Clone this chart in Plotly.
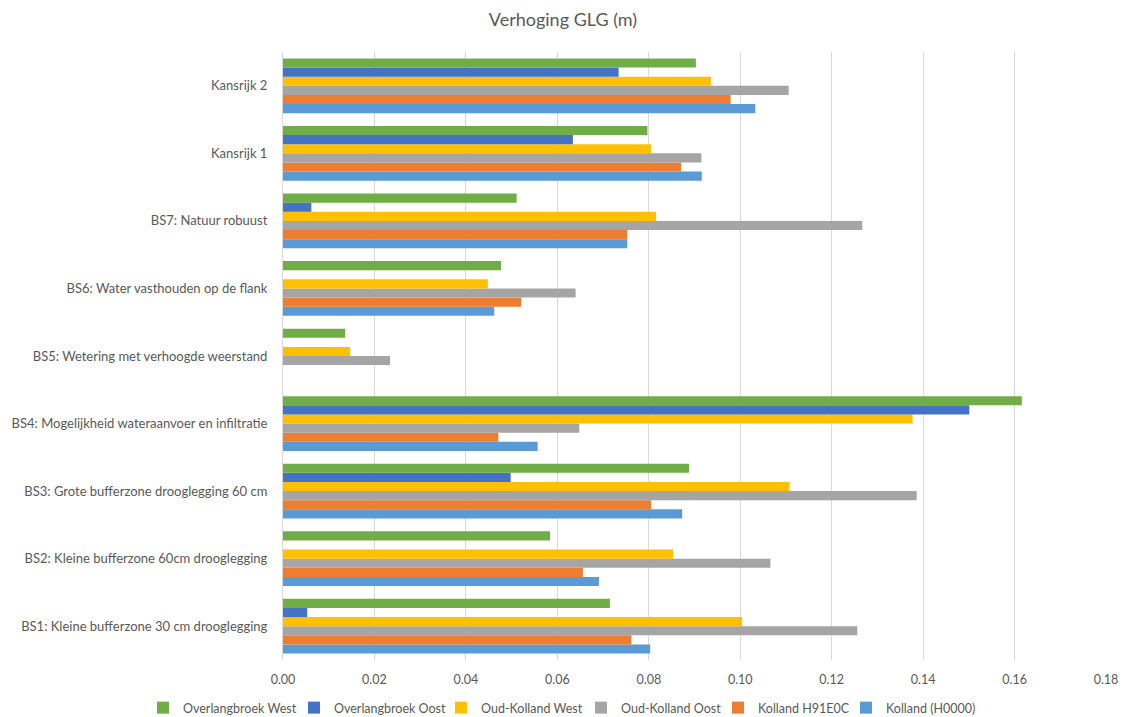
import plotly.graph_objects as go

# Scenario categories, listed bottom to top
categories = [
    "BS1: Kleine bufferzone 30 cm drooglegging",
    "BS2: Kleine bufferzone 60cm drooglegging",
    "BS3: Grote bufferzone drooglegging 60 cm",
    "BS4: Mogelijkheid wateraanvoer en infiltratie",
    "BS5: Wetering met verhoogde weerstand",
    "BS6: Water vasthouden op de flank",
    "BS7: Natuur robuust",
    "Kansrijk 1",
    "Kansrijk 2",
]

# GLG rise (m) per area, same order as categories
kolland_h0000 = [0.0803, 0.0691, 0.0873, 0.0557, 0.0, 0.0462, 0.0753, 0.0916, 0.1033]
kolland_h91e0c = [0.0762, 0.0656, 0.0805, 0.0471, 0.0, 0.0521, 0.0753, 0.0871, 0.0979]
oud_kolland_oost = [0.1256, 0.1066, 0.1386, 0.0648, 0.0234, 0.0640, 0.1267, 0.0915, 0.1106]
oud_kolland_west = [0.1004, 0.0853, 0.1108, 0.1377, 0.0147, 0.0448, 0.0816, 0.0805, 0.0936]
overlangbroek_oost = [0.0053, 0.0, 0.0498, 0.1501, 0.0, 0.0, 0.0062, 0.0634, 0.0734]
overlangbroek_west = [0.0715, 0.0584, 0.0888, 0.1616, 0.0136, 0.0477, 0.0511, 0.0797, 0.0903]

x_ticks = [0.00, 0.02, 0.04, 0.06, 0.08, 0.10, 0.12, 0.14, 0.16, 0.18]

# name, values, colour, left edge of its legend entry (px from page left)
series = [
    ("Kolland (H0000)", kolland_h0000, "#5B9BD5", 846),
    ("Kolland H91E0C", kolland_h91e0c, "#ED7D31", 718),
    ("Oud-Kolland Oost", oud_kolland_oost, "#A5A5A5", 581),
    ("Oud-Kolland West", oud_kolland_west, "#FFC000", 441),
    ("Overlangbroek Oost", overlangbroek_oost, "#4472C4", 294),
    ("Overlangbroek West", overlangbroek_west, "#70AD47", 143),
]

W, H = 1126, 717
font_family = "Lato, 'Open Sans', sans-serif"
text_color = "#595959"

fig = go.Figure()
legend_layouts = {}
for i, (name, values, color, lx) in enumerate(series):
    key = "legend" if i == 0 else f"legend{i + 1}"
    fig.add_trace(go.Bar(
        y=categories,
        x=values,
        name=name,
        orientation="h",
        legend=key,
        marker=dict(color=color, line=dict(width=0)),
    ))
    legend_layouts[key] = dict(
        orientation="h",
        x=lx / W,
        xanchor="left",
        xref="container",
        y=(H - 708) / H,
        yref="container",
        yanchor="middle",
        bgcolor="rgba(0,0,0,0)",
        font=dict(family=font_family, size=12.5, color=text_color),
        itemwidth=30,
    )

fig.update_layout(
    width=W,
    height=H,
    barmode="group",
    bargap=0.19,
    bargroupgap=0,
    plot_bgcolor="white",
    paper_bgcolor="white",
    margin=dict(l=283, r=20, t=52, b=57, autoexpand=False),
    font=dict(family=font_family, size=12.5, color=text_color),
    title=dict(
        text="Verhoging GLG (m)",
        x=0.5,
        xref="container",
        xanchor="center",
        y=1 - 20 / H,
        yanchor="middle",
        font=dict(family=font_family, size=18, color=text_color),
    ),
    showlegend=True,
    **legend_layouts,
)

fig.update_xaxes(
    range=[0, 0.18],
    tickvals=x_ticks,
    tickformat=".2f",
    showgrid=True,
    gridcolor="#D9D9D9",
    gridwidth=1,
    zeroline=False,
    showline=False,
    ticks="",
    ticklabelstandoff=10,
    tickfont=dict(family=font_family, size=12.5, color=text_color),
)

fig.update_yaxes(
    type="category",
    categoryorder="array",
    categoryarray=categories,
    showgrid=False,
    showline=True,
    linecolor="#D9D9D9",
    linewidth=1,
    ticks="",
    ticklabelstandoff=12,
    tickfont=dict(family=font_family, size=13, color=text_color),
)

fig.write_html("out.html")
